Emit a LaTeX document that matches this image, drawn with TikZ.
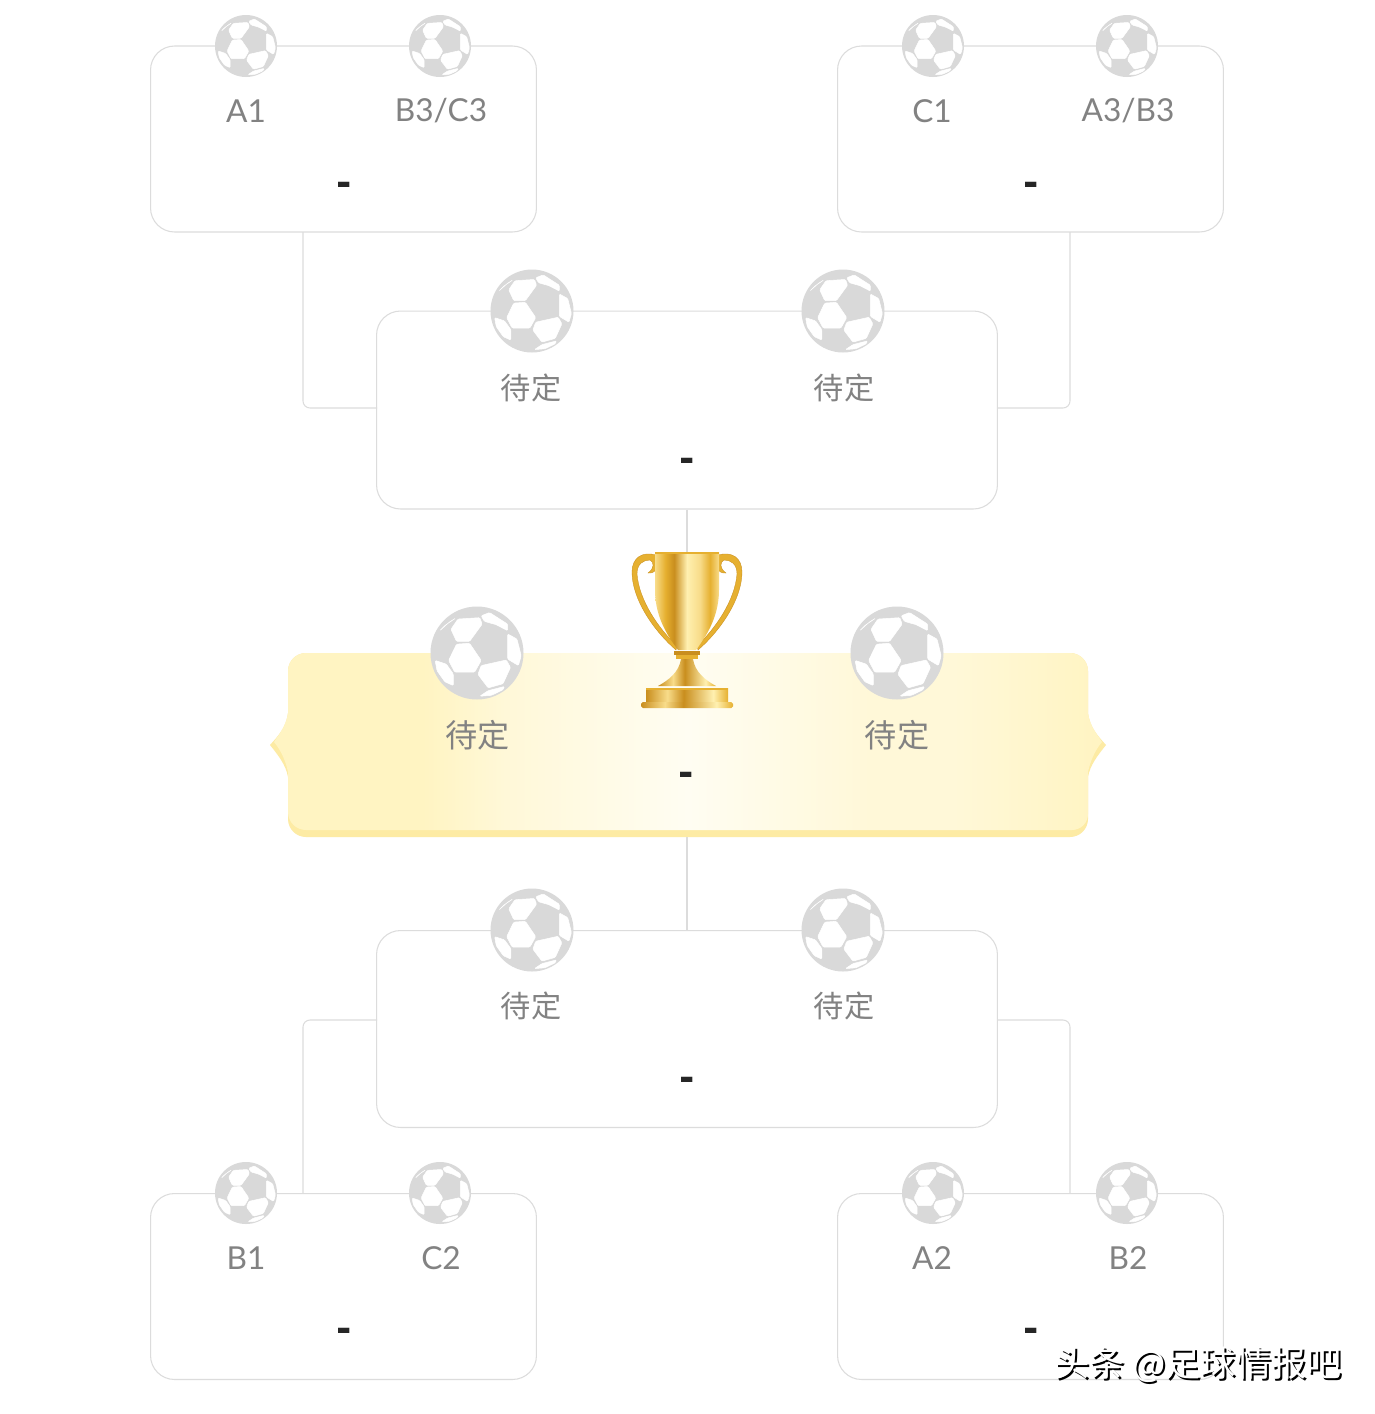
\documentclass[tikz,border=0pt]{standalone}
\usepackage{fontspec}
\setmainfont{Lato}
\newfontfamily\cjkfont{Noto Sans CJK SC}
\newfontfamily\dashfont{DejaVu Sans}
\usepackage{tikz}
\definecolor{edgegray}{HTML}{DCDCDC}
\definecolor{ballgray}{HTML}{D9D9D9}
\definecolor{textgray}{HTML}{828282}
\definecolor{platelow}{HTML}{FDEBA4}
\definecolor{platea}{HTML}{FFF4C2}
\definecolor{plateb}{HTML}{FFF8D8}
\definecolor{platec}{HTML}{FFFDF2}
\pgfdeclarehorizontalshading{platefill}{100bp}{
	color(0bp)=(platea); color(25bp)=(platea); color(34bp)=(platea); color(39bp)=(plateb);
	color(50bp)=(platec); color(61bp)=(plateb); color(66bp)=(plateb); color(75bp)=(platea); color(100bp)=(platea)}
\definecolor{gold1}{HTML}{C98E1E}
\definecolor{gold2}{HTML}{F8DC8A}
\definecolor{gold3}{HTML}{E6B030}
\definecolor{gold4}{HTML}{FFF0B0}
\pgfdeclarehorizontalshading{cupfill}{100bp}{
	color(0bp)=(gold2); color(25bp)=(gold2); color(33bp)=(gold3); color(40bp)=(gold1);
	color(50bp)=(gold4); color(60bp)=(gold2); color(68bp)=(gold3); color(75bp)=(gold2); color(100bp)=(gold2)}
\pgfdeclarehorizontalshading{basefill}{100bp}{
	color(0bp)=(gold1); color(25bp)=(gold1); color(38bp)=(gold2); color(48bp)=(gold1);
	color(66bp)=(gold4); color(75bp)=(gold3); color(100bp)=(gold3)}
\tikzset{
	matchbox/.style={draw=edgegray, line width=0.6pt, rounded corners=0.48cm},
	wire/.style={draw=edgegray, line width=0.6pt, rounded corners=0.14cm},
	team/.style={text=textgray, font=\fontsize{18}{20}\selectfont},
	teamcn/.style={text=textgray, font=\cjkfont\fontsize{17.2}{20}\selectfont},
	teambig/.style={text=textgray, font=\cjkfont\fontsize{18.3}{20}\selectfont},
	score/.style={text=black!85, yshift=-0.11cm, font=\dashfont\bfseries\fontsize{21}{24}\selectfont},
	patch/.style={fill=white, draw=white, line width=0.3pt, rounded corners=0.6pt},
	handle/.style={fill=gold3, draw=gold1, line width=0.2pt}
}
\def\soccerball(#1)(#2){
	\begin{scope}[shift={(#1)},scale=#2,yscale=-1]
		\fill[ballgray] (0,0) circle (1);
		\filldraw[patch] (-.56,.51) -- (-.41,.73) -- (.06,.76) -- (.11,.62) -- (-.16,.25) -- (-.44,.25) -- cycle;
		\filldraw[patch] (.09,.8) -- (.27,.87) -- (.66,.62) -- (.66,.48) -- (.41,.61) -- (.16,.68) -- cycle;
		\filldraw[patch] (.66,.41) -- (.86,.3) -- (.95,-.06) -- (.89,-.27) -- (.66,-.13) -- cycle;
		\filldraw[patch] (-.44,.19) -- (-.16,.21) -- (.09,-.16) -- (-.05,-.41) -- (-.48,-.41) -- (-.61,-.16) -- cycle;
		\filldraw[patch] (.09,-.27) -- (.63,-.15) -- (.72,-.31) -- (.56,-.66) -- (.24,-.75) -- (.02,-.46) -- cycle;
		\filldraw[patch] (-.9,-.16) -- (-.66,-.24) -- (-.51,-.45) -- (-.51,-.7) -- (-.69,-.62) -- (-.86,-.38) -- cycle;
		\filldraw[patch] (.06,-.93) -- (.24,-.81) -- (.59,-.72) -- (.56,-.79) -- (.31,-.91) -- cycle;
		\filldraw[patch] (-.8,.48) -- (-.6,.66) -- (-.46,.75) -- (-.68,.6) -- cycle;
	\end{scope}
}
\def\cuphandle{
	\filldraw[handle] (656,555) .. controls (642,551) and (632,558) .. (632,572) .. controls (632,600) and (655,632) .. (676,650) -- (677,646) .. controls (658,628) and (639,600) .. (637,574) .. controls (637,564) and (643,560) .. (650,560) .. controls (654,562) and (655,568) .. (648,573) .. controls (656,574) and (660,566) .. (656,555) -- cycle;
}

\begin{document}
\begin{tikzpicture}[x=0.02cm,y=-0.02cm]
	\useasboundingbox[fill=white] (0,0) rectangle (1374,1414);

	%%%%% PLATE %%%%%
	\fill[platelow] (306,653) -- (1070,653) arc (-90:0:18) -- (1088,713) .. controls (1090,728) and (1098,736) .. (1106,745) .. controls (1098,755) and (1090,765) .. (1088,777) -- (1088,819) arc (0:90:18) -- (306,837) arc (90:180:18) -- (288,777) .. controls (286,765) and (278,755) .. (270,745) .. controls (278,736) and (286,728) .. (288,713) -- (288,671) arc (180:270:18) -- cycle;
	\shade[shading=platefill] (306,653) -- (1070,653) arc (-90:0:18) -- (1088,713) .. controls (1090,726) and (1096,733) .. (1102,742) .. controls (1095,750) and (1090,762) .. (1088,772) -- (1088,814) arc (0:90:16) -- (306,830) arc (90:180:18) -- (288,772) .. controls (286,762) and (281,750) .. (274,742) .. controls (280,733) and (286,726) .. (288,713) -- (288,671) arc (180:270:18) -- cycle;
	\node[minimum width=16cm, minimum height=3.68cm, inner sep=0pt] (fin) at (687,745) {};

	%%%%% MATCH BOXES %%%%%
	\node[matchbox, minimum width=7.72cm, minimum height=3.72cm] (qf1) at (343.5,139) {};
	\node[matchbox, minimum width=7.72cm, minimum height=3.72cm] (qf2) at (1030.5,139) {};
	\node[matchbox, minimum width=12.42cm, minimum height=3.96cm] (sf1) at (687,410) {};
	\node[matchbox, minimum width=12.42cm, minimum height=3.94cm] (sf2) at (687,1029) {};
	\node[matchbox, minimum width=7.72cm, minimum height=3.72cm] (qf3) at (343.5,1286.5) {};
	\node[matchbox, minimum width=7.72cm, minimum height=3.72cm] (qf4) at (1030.5,1286.5) {};

	%%%%% CONNECTORS %%%%%
	\coordinate (qf1out) at (303,232);
	\coordinate (qf2out) at (1070,232);
	\coordinate (qf3out) at (303,1193);
	\coordinate (qf4out) at (1070,1193);
	\coordinate (sf1l) at (377,408);
	\coordinate (sf1r) at (997,408);
	\coordinate (sf2l) at (377,1020);
	\coordinate (sf2r) at (997,1020);
	\coordinate (cuptop) at (687,552);
	\draw[wire] (qf1out) |- (sf1l);
	\draw[wire] (qf2out) |- (sf1r);
	\draw[wire] (qf3out) |- (sf2l);
	\draw[wire] (qf4out) |- (sf2r);
	\draw[wire] (sf1.south) -- (cuptop);
	\draw[wire] (fin.south) -- (sf2.north);

	%%%%% BALLS %%%%%
	\foreach \bx in {246,440,933,1127}{
		\soccerball(\bx,46)(31)
		\soccerball(\bx,1193)(31)
	}
	\foreach \bx in {532,843}{
		\soccerball(\bx,311)(41.5)
		\soccerball(\bx,930)(41.5)
	}
	\soccerball(477,653)(46.5)
	\soccerball(897,653)(46.5)

	%%%%% TROPHY %%%%%
	\cuphandle
	\begin{scope}[shift={(1374,0)},xscale=-1]
		\cuphandle
	\end{scope}
	\shade[shading=cupfill] (655,552) -- (719,552) -- (719,590) .. controls (719,620) and (703,640) .. (696,650) -- (678,650) .. controls (671,640) and (655,620) .. (655,590) -- cycle;
	\fill[gold3] (655,552) rectangle (719,553.5);
	\fill[gold1] (674,651) rectangle (700,655);
	\fill[gold3] (676,655) rectangle (698,659);
	\shade[shading=basefill] (681,659) -- (693,659) .. controls (695,672) and (705,680) .. (716,686) -- (658,686) .. controls (669,680) and (679,672) .. (681,659) -- cycle;
	\shade[shading=basefill] (646,688) rectangle (728,703);
	\fill[gold3] (646,688) rectangle (728,689.5);
	\shade[shading=basefill, rounded corners=1pt] (641,702) rectangle (733,708);

	%%%%% TEXTS %%%%%
	\node[team] (t1) at (246,111) {A1};
	\node[team] (t2) at (441,111) {B3/C3};
	\node[team] (t3) at (932,111) {C1};
	\node[team] (t4) at (1128,111) {A3/B3};
	\node[team] (t5) at (246,1258) {B1};
	\node[team] (t6) at (441,1258) {C2};
	\node[team] (t7) at (932,1258) {A2};
	\node[team] (t8) at (1128,1258) {B2};
	\node[teamcn] (s1) at (531,388) {待定};
	\node[teamcn] (s2) at (844,388) {待定};
	\node[teamcn] (s3) at (531,1006) {待定};
	\node[teamcn] (s4) at (844,1006) {待定};
	\node[teambig] (f1) at (477.5,735) {待定};
	\node[teambig] (f2) at (897,735) {待定};
	\node[score] (d1) at (344.5,183) {-};
	\node[score] (d2) at (1031.5,183) {-};
	\node[score] (d3) at (687.5,459) {-};
	\node[score] (d4) at (686.5,773) {-};
	\node[score] (d5) at (687.5,1078) {-};
	\node[score] (d6) at (344.5,1329) {-};
	\node[score] (d7) at (1031.5,1329) {-};

	%%%%% WATERMARK %%%%%
	\node[anchor=west, inner sep=0pt, text=black, font=\cjkfont\fontsize{20}{22}\selectfont] (wmshade) at (1056,1367) {头条 @足球情报吧};
	\node[anchor=west, inner sep=0pt, text=white, font=\cjkfont\fontsize{20}{22}\selectfont] (wm) at (1054,1365) {头条 @足球情报吧};
\end{tikzpicture}
\end{document}
